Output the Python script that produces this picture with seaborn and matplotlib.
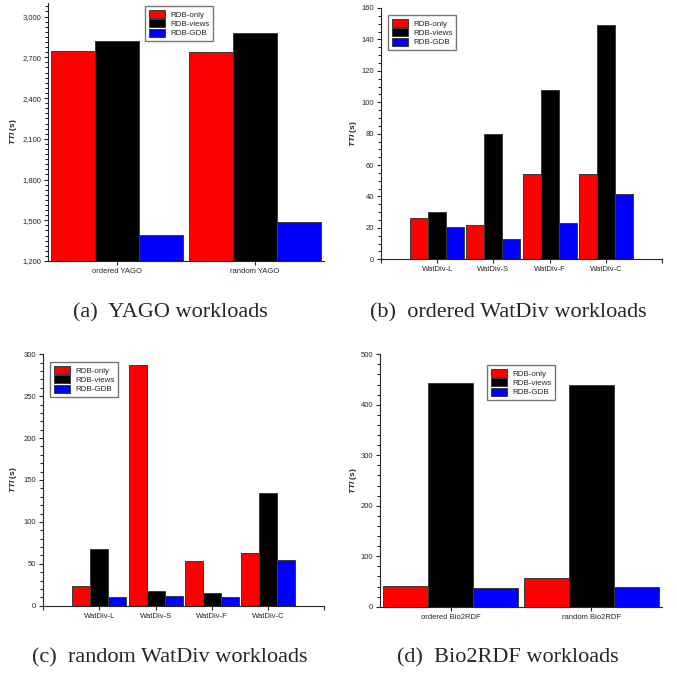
import matplotlib
matplotlib.use("Agg")
import matplotlib.pyplot as plt
from matplotlib.ticker import AutoMinorLocator, FuncFormatter
import numpy as np
import pandas as pd
import seaborn as sns

# data (TTI in seconds)
methods = ["RDB-only", "RDB-views", "RDB-GDB"]

yago_cats = ["ordered YAGO", "random YAGO"]
yago_only = [2745, 2742]
yago_views = [2821, 2880]
yago_gdb = [1394, 1487]

wat_cats = ["WatDiv-L", "WatDiv-S", "WatDiv-F", "WatDiv-C"]
ord_only = [26.1, 21.9, 54.6, 54.0]
ord_views = [30.0, 79.9, 107.5, 148.9]
ord_gdb = [20.6, 13.1, 23.3, 41.4]

rnd_only = [23.5, 287.7, 53.7, 63.3]
rnd_views = [68.0, 17.9, 15.5, 134.5]
rnd_gdb = [10.0, 11.5, 10.7, 54.1]

bio_cats = ["ordered Bio2RDF", "random Bio2RDF"]
bio_only = [41.6, 56.2]
bio_views = [444.0, 439.6]
bio_gdb = [37.0, 39.6]

colors = {"RDB-only": "#ff0000", "RDB-views": "#000000", "RDB-GDB": "#0000ff"}

sns.set_style("ticks")
plt.rcParams["font.family"] = ["Liberation Sans", "DejaVu Sans"]
plt.rcParams["mathtext.fontset"] = "custom"
plt.rcParams["mathtext.bfit"] = "Liberation Sans:bold:italic"
plt.rcParams["mathtext.rm"] = "Liberation Sans"

W, H = 677, 673
fig = plt.figure(figsize=(W / 100, H / 100), dpi=100)


def to_df(cats, only, views, gdb):
    rows = []
    for vals, m in zip([only, views, gdb], methods):
        for c, v in zip(cats, vals):
            rows.append({"cat": c, "method": m, "tti": v})
    return pd.DataFrame(rows)


def panel(box, cats, only, views, gdb, ylim, major, minor_n, xlim, end_ticks,
          leg_xy, label_x, caption, cap_xy, thousands=False):
    l, t, r, b = box
    ax = fig.add_axes([l / W, 1 - b / H, (r - l) / W, (b - t) / H])
    df = to_df(cats, only, views, gdb)
    sns.barplot(data=df, x="cat", y="tti", hue="method", hue_order=methods,
                order=cats, palette=colors, saturation=1, width=0.96, gap=0,
                edgecolor="#3a3a3a", linewidth=0.7, ax=ax)
    ax.set_ylim(*ylim)
    ax.set_xlim(*xlim)
    ax.set_yticks(np.arange(ylim[0], ylim[1] + 1e-9, major))
    if thousands:
        ax.yaxis.set_major_formatter(FuncFormatter(lambda v, p: f"{int(v):,}"))
    ax.yaxis.set_minor_locator(AutoMinorLocator(minor_n))
    if end_ticks:
        ax.set_xticks([xlim[0]] + list(range(len(cats))) + [xlim[1]])
        ax.set_xticklabels([""] + cats + [""])
    else:
        ax.set_xticks(range(len(cats)))
        ax.set_xticklabels(cats)
    ax.set_xlabel("")
    ax.set_ylabel(r"$\bfit{TTI}$ (s)", fontsize=6, fontweight="bold")
    ax.yaxis.set_label_coords(label_x, 0.5)
    ax.tick_params(axis="both", labelsize=5.5, width=0.8, length=3, pad=2,
                   direction="out")
    ax.tick_params(axis="y", which="minor", width=0.8, length=2)
    for s in ["top", "right"]:
        ax.spines[s].set_visible(False)
    for s in ["left", "bottom"]:
        ax.spines[s].set_linewidth(0.8)
    ax.legend(loc="upper left", bbox_to_anchor=(leg_xy[0] / W, 1 - leg_xy[1] / H),
              bbox_transform=fig.transFigure, fontsize=5.8, frameon=True,
              fancybox=False, edgecolor="#777777", framealpha=1,
              borderpad=0.5, handlelength=2.0, handleheight=1.1,
              handletextpad=0.6, labelspacing=0.1, borderaxespad=0)
    fig.text(cap_xy[0] / W, 1 - cap_xy[1] / H, caption, ha="center", va="center",
             fontsize=16, family=["Liberation Serif", "DejaVu Serif"])
    return ax


panel((48, 3, 324, 261), yago_cats, yago_only, yago_views, yago_gdb,
      (1200, 3100), 300, 8, (-0.5, 1.5), False, (145, 6), -0.105,
      "(a)  YAGO workloads", (170, 313), thousands=True)
panel((381, 8, 662, 259.3), wat_cats, ord_only, ord_views, ord_gdb,
      (0, 160), 20, 4, (-1, 4), True, (388, 15), -0.078,
      "(b)  ordered WatDiv workloads", (508, 313))
panel((43.3, 354.3, 324, 605.7), wat_cats, rnd_only, rnd_views, rnd_gdb,
      (0, 300), 50, 5, (-1, 4), True, (50, 362), -0.086,
      "(c)  random WatDiv workloads", (170, 658))
panel((380.3, 354.3, 661.7, 606.7), bio_cats, bio_only, bio_views, bio_gdb,
      (0, 500), 100, 5, (-0.5, 1.5), False, (487, 365), -0.075,
      "(d)  Bio2RDF workloads", (508, 658))

fig.savefig("out.png", dpi=100)
